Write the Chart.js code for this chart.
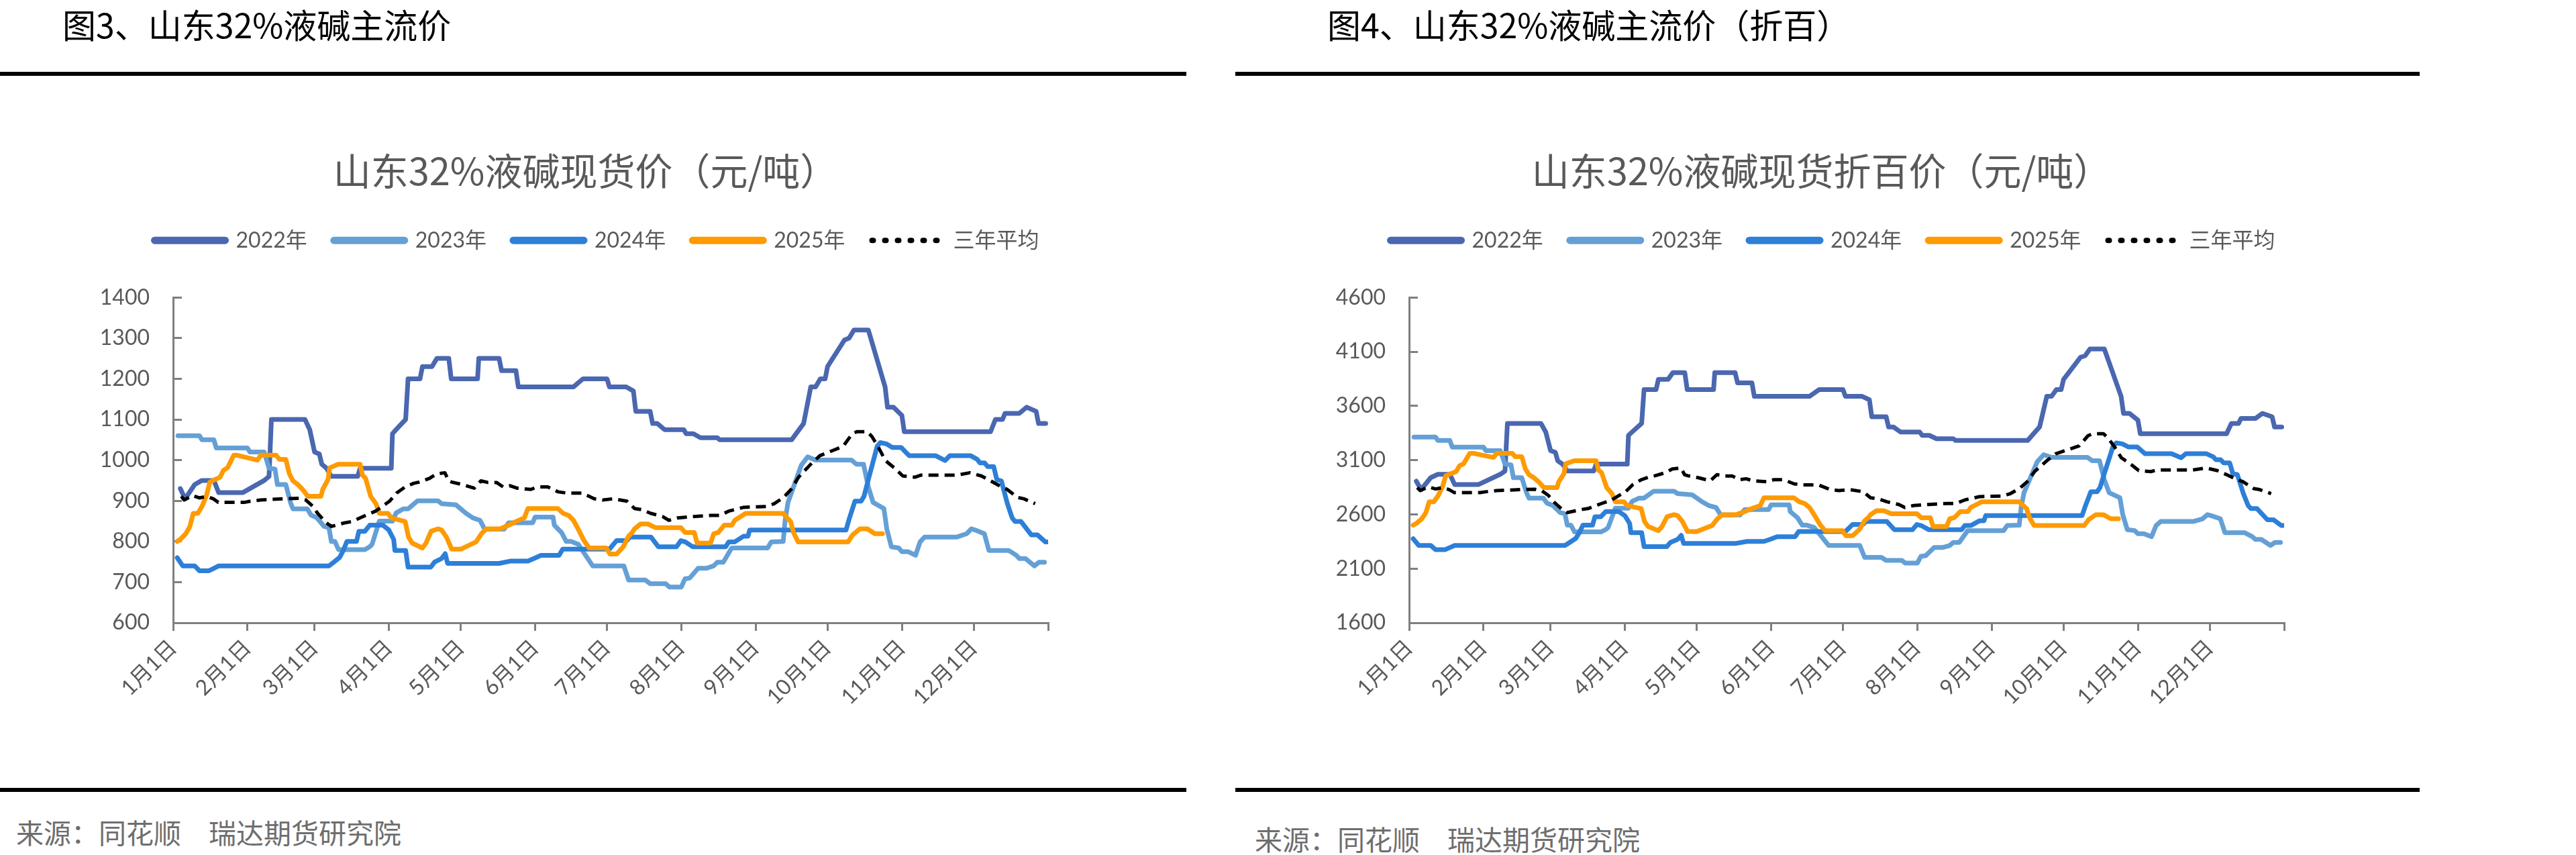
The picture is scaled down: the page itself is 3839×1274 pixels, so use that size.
<!DOCTYPE html>
<html>
<head>
<meta charset="utf-8">
<script src="https://cdn.jsdelivr.net/npm/chart.js@4/dist/chart.umd.min.js"></script>
<style>
  body { margin: 0; background: #fff; width: 3839px; height: 1274px; position: relative; overflow: hidden; font-family: "Noto Sans CJK SC", sans-serif; }
  .head { position: absolute; top: 5px; font-size: 50px; line-height: 60px; color: #000; white-space: nowrap; }
  .rule { position: absolute; height: 6px; background: #000; }
  .src { position: absolute; font-size: 41px; line-height: 50px; color: #6e6e6e; white-space: nowrap; }
  canvas { position: absolute; top: 120px; }
</style>
</head>
<body>
<div class="head" style="left:93px">图3、山东32%液碱主流价</div>
<div class="rule" style="left:0;top:107px;width:1768px"></div>
<div class="head" style="left:1978px">图4、山东32%液碱主流价（折百）</div>
<div class="rule" style="left:1841px;top:107px;width:1765px"></div>

<canvas id="priceChart" width="1768" height="1050" style="left:0"></canvas>
<canvas id="foldChart" width="1768" height="1050" style="left:1842px"></canvas>

<div class="rule" style="left:0;top:1174px;width:1768px"></div>
<div class="rule" style="left:1841px;top:1174px;width:1765px"></div>
<div class="src" style="left:24px;top:1214px">来源：同花顺　瑞达期货研究院</div>
<div class="src" style="left:1870px;top:1224px">来源：同花顺　瑞达期货研究院</div>

<script>
// x positions are day-of-year (0 = 1月1日), points where each line turns
const monthStarts = [0, 31, 59, 90, 120, 151, 181, 212, 243, 273, 304, 334];
const monthLabels = ["1月1日", "2月1日", "3月1日", "4月1日", "5月1日", "6月1日",
  "7月1日", "8月1日", "9月1日", "10月1日", "11月1日", "12月1日"];
const yearEnd = 365;
const seriesNames = ["2022年", "2023年", "2024年", "2025年", "三年平均"];

const days2022 = [3,5,9,12,17,19,29,38,40,41, 55,57,59,61,62,64,66,77,78,91, 91.5,93,97,98,103,104,108,110,115,116,
  127,127.5,136,137,143,144,167,171,181,182, 189,192,193,199,200,202,205,213,214,217, 220,227,228,258,263,266,268,270,272,273,
  280,282,284,290,291,292.5,297,298,300.5,304, 305,341,343,346,347,353,356,360,361,364];
const days2023 = [2,11,12,17,18,31,32,38,40,42.5, 43.5,47,49,50,56,57.5,60,63,65,66, 67.5,69,80,82,83,86,91.5,93,96,98,
  100,102,110.5,112,118,122,125,128,130,138, 140,150,151,158.5,159,162,164,166,169,175, 188,190,197,199,205.5,207,212,213.5,215.5,219,
  222.5,225.5,227,229.5,233,248,249.5,254.5,255.3,256.5, 262,264.7,268,283,285,288,290,292,296.5,297.7,
  299.6,302.7,304,306.5,309.7,311.6,313.5,327,331,333, 334.6,338.4,340.3,348.5,351.7,353,355.5,359.3,361.2,363.5];
const days2024 = [1.7,4,9,11,15,17,19,65,67,69.5, 71,72.5,76.5,77.5,80,82,87.5,90,92,92.5, 97,98,107.5,109,112,113.5,114.5,136,141,148,
  150.5,153.5,161,162.5,182,185,189.3,190.6,199.3,202.4, 210,211.8,213.6,216.7,230.5,231.8,234.3,238,239.8,240.5,
  280.7,282,284.4,287,288.2,290,293.7,295,297.5,300, 303.7,307,318,322,324,332.6,335.4,336.6,338.5,339.8,
  342.3,343.6,345.5,348,350,351.2,353.7,358,360.6,363.8, 365];
const days2025 = [1.7,3,5.3,7,8.4,10.3,12.1,13.9,15.3,17.4, 19.6,21,22.7,25.3,26.7,35.2,36.6,43,44.3,47,
  48.5,50,52,54,56.2,61.7,62.4,64.6,65.3,68.9, 78,79,80.3,82.4,84.6,86,89.6,91,96.8,98.2,
  99.7,104,105.5,107.6,110.5,112,114,116.2,120,126.4, 128.6,130.7,136.4,140,143,146.5,148,160.5,162.7,165,
  167,169.2,171.4,173.5,180.7,182.2,185,187.8,190,191.5, 192.5,195,198,201.2,211.8,213.6,217.4,218.6,224.2,225.5,
  227.4,229.9,233.1,234.3,237.5,238.8,254.4,257.6,258.8,260.7, 281.6,283.4,286.5,289.6,292.7,295.9];
const daysAvg = [3.4,4.6,8.1,11,13.9,16.7,18.9,29.6,32.3,36.5, 46.3,52.5,55.3,58.2,60.3,63.9,66,71.7,74.6,80.3,
  84.6,87.4,90.3,93.2,96.8,100.4,102.6,106.9,109.8,113.4, 114.9,116.3,120.6,125.6,128.4,131.3,134.9,137.7,140.6,143.5,
  149.2,152,156.3,160.6,164.2,170.6,175.7,179.2,183.7,189.3, 192.5,195.6,199.3,204.3,206.8,210.5,216.7,224.3,228,232,
  238,247.7,250.8,254.6,257.8,260.9,266,269.8,274.5,279.5, 283.2,285.2,289.6,291.5,294,297.1,300.8,304.4,309.4,311.8,
  326.8,332.4,337.2,341,344.7,347.9,352.3,354.8,359.6];

// 32%液碱现货价 (元/吨)
const price2022 = [930,905,940,950,950,920,920,950,960,1100, 1100,1075,1020,1015,990,980,960,960,980,980,
  1065,1075,1100,1200,1200,1230,1230,1250,1250,1200, 1200,1250,1250,1220,1220,1180,1180,1200,1200,1180,
  1180,1170,1120,1120,1090,1090,1075,1075,1065,1065, 1055,1055,1050,1050,1090,1180,1180,1200,1200,1230,
  1295,1300,1320,1320,1300,1270,1180,1130,1130,1110, 1070,1070,1100,1100,1115,1115,1130,1120,1090,1090];
const price2023 = [1060,1060,1050,1050,1030,1030,1020,1020,980,978, 940,940,895,880,880,865,858,837,834,800,
  800,780,780,787,793,850,850,870,880,880, 890,900,900,893,890,870,858,852,830,830,
  846,846,860,860,840,822,800,800,793,740, 740,705,705,696,696,688,688,708,710,734,
  734,740,749,749,784,784,799,800,852,896, 987,1008,1000,1000,990,990,934,896,881,831,
  787,784,775,775,766,799,811,811,819,831, 828,819,778,778,766,758,758,740,749,749];
const price2024 = [760,740,740,728,728,734,740,740,749,761, 778,800,800,825,825,840,840,828,805,778,
  778,737,737,749,758,770,746,746,752,752, 758,766,766,781,781,802,802,811,811,787,
  787,802,799,787,787,799,799,813,813,828, 828,855,899,899,911,952,1034,1043,1040,1031,
  1031,1011,1011,999,1011,1011,1002,993,993,984, 984,952,949,893,858,849,849,816,816,799, 799];
const price2025 = [800,805,819,837,869,869,887,913,946,952, 958,975,981,1012,1012,1000,1012,1012,1002,1002,
  966,949,940,928,911,911,928,952,981,990, 990,963,955,911,893,869,869,858,849,811,
  796,784,796,825,831,828,811,781,781,799, 819,831,831,840,849,858,881,881,869,864,
  852,828,802,784,784,769,769,787,813,822, 831,843,843,834,834,822,822,796,796,819,
  822,840,840,852,864,869,869,849,822,799, 799,816,831,831,819,819];
const priceAvg = [911,902,913,907,911,905,896,896,899,902, 905,906,902,887,869,846,837,846,849,864,
  875,887,899,919,934,943,946,955,966,969, 949,946,940,931,949,945,945,934,937,931,
  928,934,934,922,919,919,905,902,905,899, 881,878,869,861,852,858,861,864,864,875,
  884,886,893,908,928,958,990,1011,1022,1034, 1064,1070,1070,1058,1034,999,981,961,958,963,
  963,969,961,949,937,928,908,905,893];

// 32%液碱现货折百价 (元/吨)
const fold2022 = [2906,2828,2938,2969,2969,2875,2875,2969,3000,3438, 3438,3359,3188,3172,3094,3063,3000,3000,3063,3063,
  3328,3359,3438,3750,3750,3844,3844,3906,3906,3750, 3750,3906,3906,3813,3813,3688,3688,3750,3750,3688,
  3688,3656,3500,3500,3406,3406,3359,3359,3328,3328, 3297,3297,3281,3281,3406,3688,3688,3750,3750,3844,
  4047,4063,4125,4125,4063,3969,3688,3531,3531,3469, 3344,3344,3438,3438,3484,3484,3531,3500,3406,3406];
const fold2023 = [3313,3313,3281,3281,3219,3219,3188,3188,3063,3056, 2938,2938,2797,2750,2750,2703,2681,2616,2606,2500,
  2500,2438,2438,2459,2478,2656,2656,2719,2750,2750, 2781,2813,2813,2791,2781,2719,2681,2663,2594,2594,
  2644,2644,2688,2688,2625,2569,2500,2500,2478,2313, 2313,2203,2203,2175,2175,2150,2150,2213,2219,2294,
  2294,2313,2341,2341,2450,2450,2497,2500,2663,2800, 3084,3150,3125,3125,3094,3094,2919,2800,2753,2597,
  2459,2450,2422,2422,2394,2497,2534,2534,2559,2597, 2588,2559,2431,2431,2394,2369,2369,2313,2341,2341];
const fold2024 = [2375,2313,2313,2275,2275,2294,2313,2313,2341,2378, 2431,2500,2500,2578,2578,2625,2625,2588,2516,2431,
  2431,2303,2303,2341,2369,2406,2331,2331,2350,2350, 2369,2394,2394,2441,2441,2506,2506,2534,2534,2459,
  2459,2506,2497,2459,2459,2497,2497,2541,2541,2588, 2588,2672,2809,2809,2847,2975,3231,3259,3250,3222,
  3222,3159,3159,3122,3159,3159,3131,3103,3103,3075, 3075,2975,2966,2791,2681,2653,2653,2550,2550,2497, 2497];
const fold2025 = [2500,2516,2559,2616,2716,2716,2772,2853,2956,2975, 2994,3047,3066,3163,3163,3125,3163,3163,3131,3131,
  3019,2966,2938,2900,2847,2847,2900,2975,3066,3094, 3094,3009,2984,2847,2791,2716,2716,2681,2653,2534,
  2488,2450,2488,2578,2597,2588,2534,2441,2441,2497, 2559,2597,2597,2625,2653,2681,2753,2753,2716,2700,
  2663,2588,2506,2450,2450,2403,2403,2459,2541,2569, 2597,2634,2634,2606,2606,2569,2569,2488,2488,2559,
  2569,2625,2625,2663,2700,2716,2716,2653,2569,2497, 2497,2550,2597,2597,2559,2559];
const foldAvg = [2847,2819,2853,2834,2847,2828,2800,2800,2809,2819, 2828,2831,2819,2772,2716,2644,2616,2644,2653,2700,
  2734,2772,2809,2872,2919,2947,2956,2984,3019,3028, 2966,2956,2938,2909,2966,2953,2953,2919,2928,2909,
  2900,2919,2919,2881,2872,2872,2828,2819,2828,2809, 2753,2744,2716,2691,2663,2681,2691,2700,2700,2734,
  2763,2769,2791,2838,2900,2994,3094,3159,3194,3231, 3325,3344,3344,3306,3231,3122,3066,3003,2994,3009,
  3009,3028,3003,2966,2928,2900,2838,2828,2791];

const colors = ["#4a67b0", "#64a0d6", "#2d7fd8", "#fe9a02", "#000000"];
const daySets = [days2022, days2023, days2024, days2025, daysAvg];
const textFont = "Lato, 'Noto Sans CJK SC', sans-serif";
const gray = "#595959";
const axisGray = "#7f7f7f";

// empty axis used only to reserve space (legend gap on top, right margin)
function spacer(axis, position, size) {
  return {
    type: "linear",
    axis: axis,
    position: position,
    display: true,
    grid: { display: false },
    ticks: { display: false },
    border: { display: false },
    afterFit: s => {
      if (axis === "x") s.height = size; else s.width = size;
      s.paddingLeft = 0; s.paddingRight = 0; s.paddingTop = 0; s.paddingBottom = 0;
    }
  };
}

// legend sits a little right of the title in the original
const legendNudge = {
  id: "legendNudge",
  afterLayout(chart) {
    chart.legend.left += 17;
    chart.legend.right += 17;
  }
};

function makeChart(canvasId, titleText, valueSets, yMin, yMax, yStep) {
  const datasets = valueSets.map((vals, i) => ({
    label: seriesNames[i],
    data: daySets[i].map((d, j) => ({ x: d, y: vals[j] })),
    borderColor: colors[i],
    backgroundColor: colors[i],
    borderWidth: i === 4 ? 5 : 7,
    borderDash: i === 4 ? [15, 9] : [],
    borderCapStyle: i === 4 ? "butt" : "round",
    borderJoinStyle: "round",
    pointRadius: 0,
    tension: 0,
    order: 4 - i,
    xAxisID: "x",
    yAxisID: "y"
  }));

  return new Chart(document.getElementById(canvasId), {
    type: "line",
    data: { datasets },
    plugins: [legendNudge],
    options: {
      responsive: false,
      animation: false,
      devicePixelRatio: 1,
      layout: { padding: { left: 145, right: 168, top: 0, bottom: 92 } },
      plugins: {
        tooltip: { enabled: false },
        title: {
          display: true,
          text: titleText,
          color: gray,
          font: { family: "'Noto Sans CJK SC', sans-serif", size: 56, weight: "normal", lineHeight: 1.2 },
          padding: { top: 101, bottom: 14 }
        },
        legend: {
          display: true,
          position: "top",
          labels: {
            usePointStyle: true,
            pointStyleWidth: 105,
            padding: 40,
            color: gray,
            font: { family: textFont, size: 32 },
            generateLabels: chart => chart.data.datasets.map((ds, i) => ({
              text: ds.label,
              datasetIndex: i,
              fontColor: gray,
              strokeStyle: ds.borderColor,
              fillStyle: ds.borderColor,
              lineWidth: i === 4 ? 8 : 11,
              lineCap: "round",
              lineDash: i === 4 ? [2, 17] : [],
              pointStyle: "line",
              hidden: false
            }))
          }
        }
      },
      scales: {
        x: {
          type: "linear",
          position: "bottom",
          min: 0,
          max: yearEnd,
          afterBuildTicks: s => { s.ticks = monthStarts.concat([yearEnd]).map(v => ({ value: v })); },
          afterFit: s => { s.height = 150; s.paddingLeft = 0; s.paddingRight = 0; },
          ticks: {
            autoSkip: false,
            maxRotation: 45,
            minRotation: 45,
            padding: 6,
            color: gray,
            font: { family: textFont, size: 32 },
            callback: (v, i) => (i < monthLabels.length ? monthLabels[i] : "")
          },
          grid: { drawOnChartArea: false, tickLength: 12, color: axisGray, lineWidth: 3 },
          border: { color: axisGray, width: 3 }
        },
        gapTop: spacer("x", "top", 59),
        gapRight: spacer("y", "right", 38),
        y: {
          position: "left",
          min: yMin,
          max: yMax,
          afterFit: s => { s.width = 113; },
          ticks: {
            stepSize: yStep,
            padding: 48,
            color: gray,
            font: { family: textFont, size: 32 },
            callback: v => String(v)
          },
          grid: { drawOnChartArea: false, tickLength: -13, color: axisGray, lineWidth: 3 },
          border: { color: axisGray, width: 3 }
        }
      }
    }
  });
}

makeChart("priceChart", "山东32%液碱现货价（元/吨）",
  [price2022, price2023, price2024, price2025, priceAvg], 600, 1400, 100);
makeChart("foldChart", "山东32%液碱现货折百价（元/吨）",
  [fold2022, fold2023, fold2024, fold2025, foldAvg], 1600, 4600, 500);
</script>
</body>
</html>
